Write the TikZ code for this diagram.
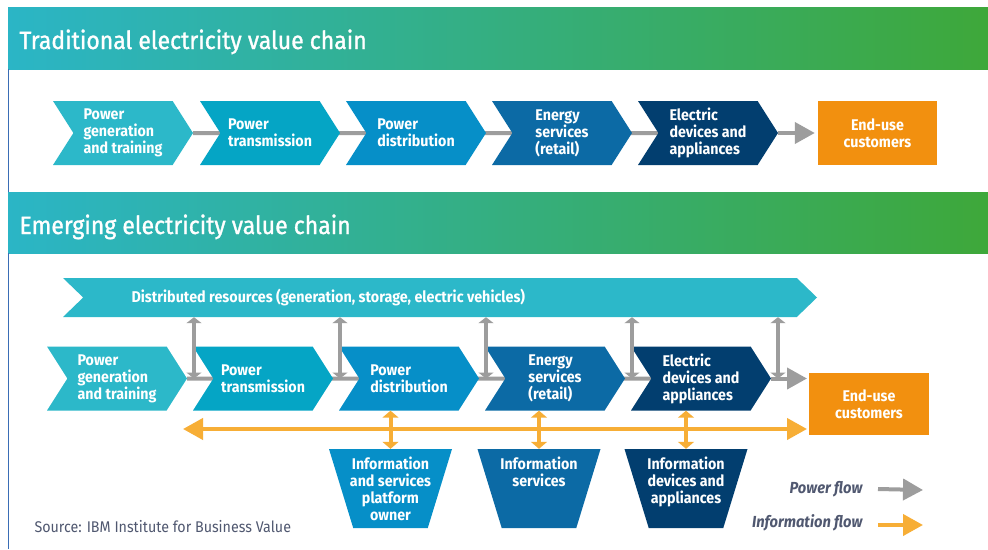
\documentclass[tikz,border=0pt]{standalone}
\usepackage{fontspec}
\setmainfont{Fira Sans}[FakeStretch=0.92]
\newfontfamily\titrefont{Fira Sans}[FakeStretch=0.92,FakeBold=1.2]
\usetikzlibrary{shapes.symbols,shapes.geometric,arrows.meta,backgrounds}

% couleurs
\definecolor{sarcelle}{HTML}{2BB5C6}
\definecolor{vert}{HTML}{3EA83A}
\definecolor{bleu1}{HTML}{2CB8C9}
\definecolor{bleu2}{HTML}{05A5C5}
\definecolor{bleu3}{HTML}{068FC8}
\definecolor{bleu4}{HTML}{0C6AA5}
\definecolor{bleu5}{HTML}{023E6F}
\definecolor{orange1}{HTML}{F2900F}
\definecolor{jaune}{HTML}{F7AE36}
\definecolor{gris}{HTML}{9D9D9D}
\definecolor{ardoise}{HTML}{505870}
\definecolor{liseret}{HTML}{3A6DB5}

\begin{document}
\begin{tikzpicture}[x=1pt,y=-1pt]

% définition des styles
\tikzstyle{chevron}=[signal,signal to=east,signal from=west,signal pointer angle=115,minimum width=140pt,minimum height=64pt,inner sep=0pt,text=white,font=\bfseries\fontsize{15.5}{17}\selectfont,align=left]
\tikzstyle{boite}=[rectangle,fill=orange1,minimum width=119pt,minimum height=64pt,text=white,font=\bfseries\fontsize{15.5}{17}\selectfont,align=center]
\tikzstyle{entonnoir}=[trapezium,shape border rotate=180,trapezium angle=72,trapezium stretches=true,minimum width=123pt,minimum height=79pt,inner sep=2pt]
\tikzstyle{texte}=[text=white,font=\bfseries\fontsize{15.5}{17}\selectfont,align=center]
\tikzstyle{titre}=[text=white,font=\titrefont\fontsize{25}{30}\selectfont,anchor=base west]
\tikzstyle{legende}=[text=ardoise,font=\bfseries\itshape\fontsize{16}{18}\selectfont,anchor=east]
\tikzstyle{fleche}=[-{Triangle[length=20pt,width=21pt]},line width=4pt,draw=gris]
\tikzstyle{flecheinfo}=[-{Triangle[length=20pt,width=21pt]},line width=4pt,draw=jaune]
\tikzstyle{liengris}=[{Triangle[length=6pt,width=15pt]}-{Triangle[length=6pt,width=15pt]},line width=4pt,draw=gris]
\tikzstyle{lieninfo}=[{Triangle[length=7pt,width=16pt]}-{Triangle[length=7pt,width=16pt]},line width=4pt,draw=jaune]

\useasboundingbox (0,0) rectangle (988,549);

% les bandeaux
\shade[left color=sarcelle,right color=vert] (8,7) rectangle (988,69);
\shade[left color=sarcelle,right color=vert] (8,192) rectangle (988,253);
\node[titre] (titre1) at (16,49) {Traditional electricity value chain};
\node[titre] (titre2) at (16,234) {Emerging electricity value chain};
\draw[liseret,line width=1pt] (8,69) -- (8,192) (8,253) -- (8,549);

% chaîne traditionnelle
\node[chevron,fill=bleu1] (prod) at (123,133) {Power\\generation\\and training};
\node[chevron,fill=bleu2] (transp) at (270,133) {Power\\transmission};
\node[chevron,fill=bleu3] (distri) at (416,133) {Power\\distribution};
\node[chevron,fill=bleu4] (fourn) at (562,133) {Energy\\services\\(retail)};
\node[chevron,fill=bleu5] (equip) at (708,133) {Electric\\devices and\\appliances};
\node[boite] (client) at (877.5,133) {End-use\\customers};

% chaîne émergente
\node[chevron,minimum width=754pt,minimum height=39pt,signal pointer angle=88,fill=bleu1] (ressources) at (440,297.5) {};
\node[texte,anchor=west] (ressourcestxt) at (128,297.5) {\fontsize{15.6}{17}\selectfont Distributed resources (generation, storage, electric vehicles)};
\node[chevron,fill=bleu1] (prod2) at (117,378.5) {Power\\generation\\and training};
\node[chevron,fill=bleu2] (transp2) at (263,378.5) {Power\\transmission};
\node[chevron,fill=bleu3] (distri2) at (409,378.5) {Power\\distribution};
\node[chevron,fill=bleu4] (fourn2) at (555,378.5) {Energy\\services\\(retail)};
\node[chevron,fill=bleu5] (equip2) at (701,378.5) {Electric\\devices and\\appliances};
\node[boite,minimum width=120pt,minimum height=62pt] (client2) at (869,404) {End-use\\customers};

% les entonnoirs d'information
\node[entonnoir,fill=bleu3] (info1) at (390.5,488.5) {};
\node[entonnoir,fill=bleu4] (info2) at (539,488.5) {};
\node[entonnoir,fill=bleu5] (info3) at (686,488.5) {};
\node[texte,anchor=north] (info1txt) at ([yshift=-5pt]info1.north) {Information\\and services\\platform\\owner};
\node[texte,anchor=north] (info2txt) at ([yshift=-5pt]info2.north) {Information\\services};
\node[texte,anchor=north] (info3txt) at ([yshift=-5pt]info3.north) {Information\\devices and\\appliances};

% les flux en arrière-plan
\begin{scope}[on background layer]
\fill[white] (0,0) rectangle (988,549);
\draw[gris,line width=4pt] (prod) -- (equip);
\draw[gris,line width=4pt] (prod2) -- (equip2);
\end{scope}

% flux de puissance
\draw[fleche] (equip.east) -- ([xshift=-3pt]client.west);
\coordinate (finpuiss) at (807,378.5);
\draw[fleche] (equip2.east) -- (finpuiss);
\foreach \x [count=\i] in {194,340,486,632,778} {
  \coordinate (v\i) at (\x,378.5);
  \draw[liengris] (v\i |- ressources.south) -- (v\i);
}

% flux d'information
\coordinate (infog) at (183,429);
\coordinate (infod) at (807,429);
\draw[{Triangle[length=20pt,width=21pt]}-{Triangle[length=20pt,width=21pt]},line width=4pt,draw=jaune] (infog) -- (infod);
\draw[lieninfo] (info1.north |- distri2.south) -- (info1.north);
\draw[lieninfo] (info2.north |- fourn2.south) -- (info2.north);
\draw[lieninfo] (info3.north |- equip2.south) -- (info3.north);

% légende et source
\node[legende] (lpuiss) at (866,489) {Power flow};
\node[legende] (linfo) at (866,523) {Information flow};
\coordinate (lpuissfin) at (923,490);
\coordinate (linfofin) at (923,525);
\draw[fleche] ([xshift=12pt]lpuiss.east) -- (lpuissfin);
\draw[flecheinfo] ([xshift=12pt]linfo.east |- linfofin) -- (linfofin);
\node[text=ardoise,font=\fontsize{15.5}{17}\selectfont,anchor=west] (source) at (31,527) {Source: IBM Institute for Business Value};

\end{tikzpicture}
\end{document}
